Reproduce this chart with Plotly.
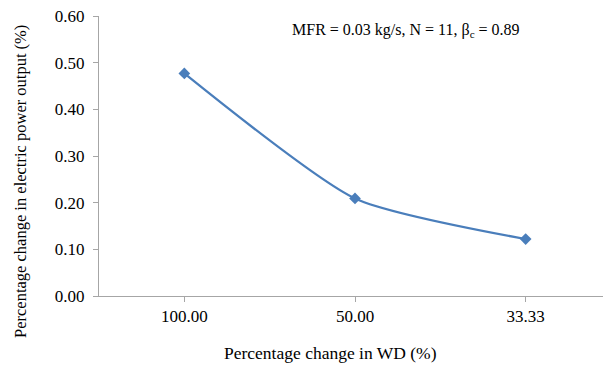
import plotly.graph_objects as go

categories = ["100.00", "50.00", "33.33"]
power_change = [0.477, 0.209, 0.122]

fig = go.Figure()
fig.add_trace(go.Scatter(
    x=[0, 1, 2], y=power_change, mode="lines+markers",
    line=dict(color="#4A7EBB", width=2.25, shape="spline", smoothing=0.6),
    marker=dict(symbol="diamond", size=9, color="#4A7EBB"),
    showlegend=False,
))

font_family = "Liberation Serif, Times New Roman, serif"
# page body has an 8px default margin, so figure coords = page coords - 8
L, T, R, B = 91, 8, 8, 84
PW, PH = 611 - L - R, 372 - T - B


def px(x):
    return (x - 8 - L) / PW


def py(y):
    return (372 - B - (y - 8)) / PH


fig.update_layout(
    width=611, height=372,
    margin=dict(l=L, r=R, t=T, b=B, autoexpand=False),
    paper_bgcolor="white", plot_bgcolor="white",
    font=dict(family=font_family, size=17, color="black"),
    xaxis=dict(
        range=[-0.5, 2.5], tickmode="array", tickvals=[0, 1, 2], ticktext=categories,
        showline=True, linecolor="#A6A6A6", linewidth=1, showgrid=False, zeroline=False,
        ticks="outside", ticklen=5, tickcolor="#A6A6A6", automargin=False,
        tickfont=dict(family=font_family, size=17),
    ),
    yaxis=dict(
        range=[0, 0.6], tickvals=[0, 0.1, 0.2, 0.3, 0.4, 0.5, 0.6], tickformat=".2f",
        showline=True, linecolor="#A6A6A6", linewidth=1, showgrid=False, zeroline=False,
        ticks="outside", ticklen=5, tickcolor="#A6A6A6", automargin=False,
        ticklabelstandoff=5, ticklabeloverflow="allow",
        tickfont=dict(family=font_family, size=17),
    ),
    annotations=[
        dict(text="MFR = 0.03 kg/s, N = 11, β<sub>c</sub> = 0.89",
             x=px(406), y=py(30), xref="paper", yref="paper",
             xanchor="center", yanchor="middle", showarrow=False,
             font=dict(family=font_family, size=16, color="black")),
        dict(text="Percentage change in WD (%)",
             x=px(330), y=py(353), xref="paper", yref="paper",
             xanchor="center", yanchor="middle", showarrow=False,
             font=dict(family=font_family, size=17.5, color="black")),
        dict(text="Percentage change in electric power output (%)",
             x=px(20), y=py(182), xref="paper", yref="paper", textangle=-90,
             xanchor="center", yanchor="middle", showarrow=False,
             font=dict(family=font_family, size=16.5, color="black")),
    ],
)

fig.write_html("out.html")
